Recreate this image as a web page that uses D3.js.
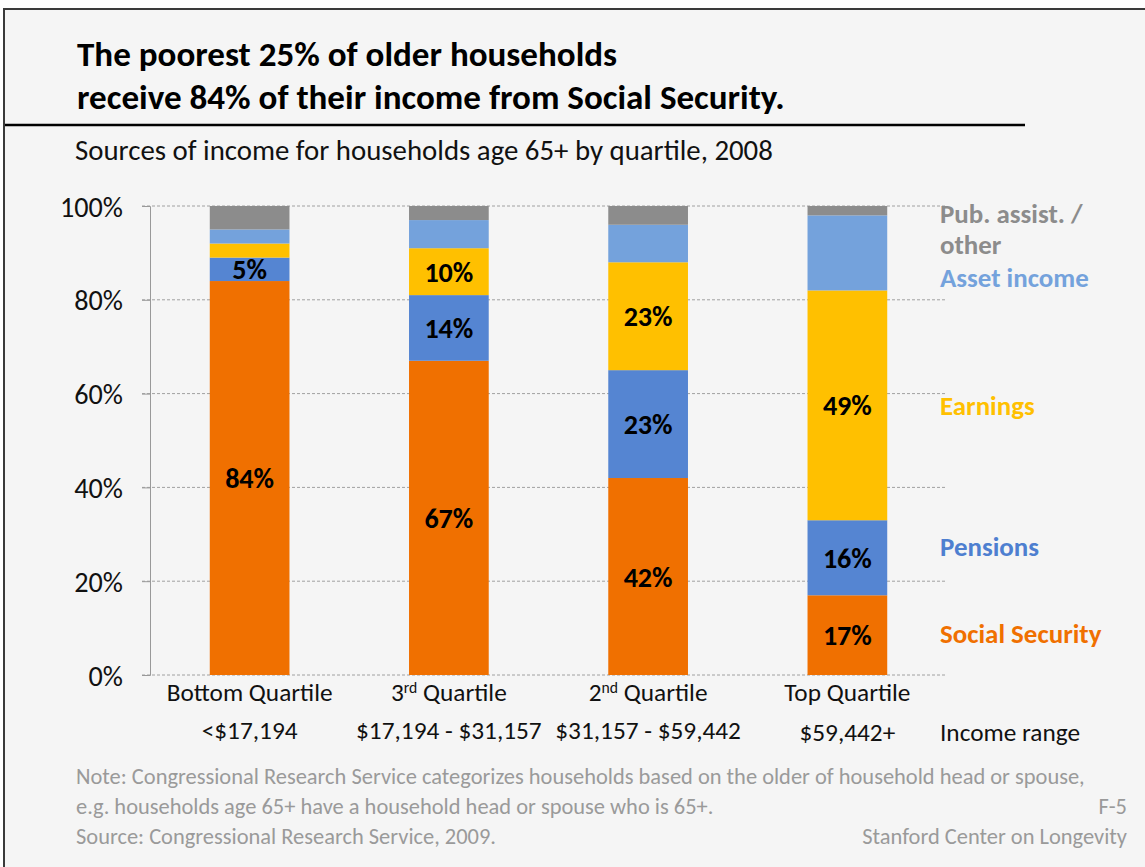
<!DOCTYPE html>
<html><head><meta charset="utf-8">
<script src="https://cdn.jsdelivr.net/npm/d3@7"></script>
<style>
html,body{margin:0;padding:0;background:#fff;}
svg{display:block;}
text{font-family:Carlito,Lato,"Open Sans",sans-serif;}
</style></head>
<body>
<script>
const categories = ["Bottom Quartile", "3rd Quartile", "2nd Quartile", "Top Quartile"];
const incomeRanges = ["<$17,194", "$17,194 - $31,157", "$31,157 - $59,442", "$59,442+"];
const seriesNames = ["Social Security", "Pensions", "Earnings", "Asset income", "Pub. assist. / other"];
const socialSecurity = [84, 67, 42, 17];
const pensions = [5, 14, 23, 16];
const earnings = [3, 10, 23, 49];
const assetIncome = [3, 6, 8, 16];
const pubAssistOther = [5, 3, 4, 2];
const labelled = [[true,true,true,true],[true,true,true,true],[false,true,true,true],[false,false,false,false],[false,false,false,false]];
const yTicks = [0, 20, 40, 60, 80, 100];
const colors = ["#F07000", "#5585D2", "#FFC000", "#74A2DC", "#8C8C8C"];
const legendColors = ["#F07000", "#4E7FD0", "#FFC000", "#74A2DC", "#8C8C8C"];

const W = 1145, H = 867;
const svg = d3.select("body").append("svg").attr("width", W).attr("height", H);
svg.append("rect").attr("x", 4).attr("y", 9).attr("width", W + 10).attr("height", H + 10)
  .attr("fill", "#f5f5f5").attr("stroke", "#3a3a3a").attr("stroke-width", 2);

// fit a text element's font-size so that its width equals target; returns size
function fit(sel, target) {
  const cur = sel.node().getComputedTextLength();
  const fs = parseFloat(sel.attr("font-size"));
  const nfs = fs * target / cur;
  sel.attr("font-size", nfs);
  return nfs;
}

// Title
const t1 = svg.append("text").attr("x", 77).attr("y", 66).attr("font-size", 28).attr("font-weight", "bold").attr("fill", "#000")
  .text("The poorest 25% of older households");
const t2 = svg.append("text").attr("x", 77).attr("y", 109).attr("font-size", 28).attr("font-weight", "bold").attr("fill", "#000")
  .text("receive 84% of their income from Social Security.");
const tfs = fit(t2, 708);
t1.attr("font-size", tfs);
svg.append("line").attr("x1", 5).attr("x2", 1025).attr("y1", 125).attr("y2", 125).attr("stroke", "#000").attr("stroke-width", 2.5);
const st = svg.append("text").attr("x", 75).attr("y", 160).attr("font-size", 22).attr("fill", "#111")
  .text("Sources of income for households age 65+ by quartile, 2008");
fit(st, 698);

// Scales
const x = d3.scaleBand().domain(categories).range([150, 947]).paddingInner(0.6).paddingOuter(0.3);
const y = d3.scaleLinear().domain([0, 100]).range([675, 206]);

// gridlines
svg.append("g").selectAll("line").data(yTicks).join("line")
  .attr("x1", 142).attr("x2", 945).attr("y1", d => y(d)).attr("y2", d => y(d))
  .attr("stroke", "#a0a0a0").attr("stroke-width", 1).attr("stroke-dasharray", "3,2");

// y axis
const yAxis = d3.axisLeft(y).tickValues(yTicks).tickFormat(d => d + "%").tickSize(8).tickPadding(19);
const ga = svg.append("g").attr("transform", "translate(150,0)").call(yAxis);
ga.select(".domain").attr("stroke", "#999");
ga.selectAll(".tick line").attr("stroke", "#999");
ga.selectAll(".tick text").attr("font-size", 22).attr("fill", "#111").attr("font-family", null).attr("dy", "0.36em");
const t100 = ga.selectAll(".tick text").filter(d => d === 100);
const yfs = fit(t100, 63);
ga.selectAll(".tick text").attr("font-size", yfs);

// stacked
const rows = categories.map((c, i) => ({cat: c, s0: socialSecurity[i], s1: pensions[i], s2: earnings[i], s3: assetIncome[i], s4: pubAssistOther[i]}));
const stack = d3.stack().keys(["s0","s1","s2","s3","s4"]);
const series = stack(rows);

const gBars = svg.append("g");
series.forEach((s, si) => {
  gBars.append("g").selectAll("rect").data(s).join("rect")
    .attr("x", d => x(d.data.cat)).attr("width", x.bandwidth())
    .attr("y", d => y(d[1])).attr("height", d => y(d[0]) - y(d[1]))
    .attr("fill", colors[si]);
});
// labels
const probe = svg.append("text").attr("font-size", 22).attr("font-weight", "bold").text("84%");
const lfs = fit(probe, 49);
probe.remove();
series.forEach((s, si) => {
  svg.append("g").selectAll("text").data(s.filter((d, i) => labelled[si][i])).join("text")
    .attr("x", d => x(d.data.cat) + x.bandwidth() / 2)
    .attr("y", d => y((d[0] + d[1]) / 2))
    .attr("dy", "0.36em").attr("text-anchor", "middle")
    .attr("font-size", lfs).attr("font-weight", "bold").attr("fill", "#000")
    .text(d => (d[1] - d[0]) + "%");
});

// x labels
const probe2 = svg.append("text").attr("font-size", 21).text("Bottom Quartile");
const xfs = fit(probe2, 166);
probe2.remove();
const gx = svg.append("g");
categories.forEach((c, i) => {
  const cx = x(c) + x.bandwidth() / 2;
  const t = gx.append("text").attr("x", cx).attr("y", 701).attr("text-anchor", "middle").attr("font-size", xfs).attr("fill", "#111");
  const m = c.match(/^(\d)(rd|nd)\s(.*)$/);
  if (m) {
    t.append("tspan").text(m[1]);
    t.append("tspan").attr("font-size", xfs * 0.62).attr("dy", -8).text(m[2]);
    t.append("tspan").attr("dy", 8).text(" " + m[3]);
  } else t.text(c);
  gx.append("text").attr("x", cx).attr("y", i === 3 ? 741 : 739).attr("text-anchor", "middle").attr("font-size", xfs).attr("fill", "#111").text(incomeRanges[i]);
});
gx.append("text").attr("x", 940).attr("y", 741).attr("font-size", xfs).attr("fill", "#111").text("Income range");

// legend (right side)
const probe3 = svg.append("text").attr("font-size", 23).attr("font-weight", "bold").text(seriesNames[0]);
const gfs = fit(probe3, 170) * 0.95;
probe3.remove();
const legendY = [633, 546, 405, 277];
[0,1,2,3].forEach(i => {
  svg.append("text").attr("x", 940).attr("y", legendY[i]).attr("dy", "0.36em").attr("font-size", gfs).attr("font-weight", "bold")
    .attr("fill", legendColors[i]).text(seriesNames[i]);
});
svg.append("text").attr("x", 940).attr("y", 213).attr("dy", "0.36em").attr("font-size", gfs).attr("font-weight", "bold")
  .attr("fill", legendColors[4]).text("Pub. assist. /");
svg.append("text").attr("x", 940).attr("y", 244).attr("dy", "0.36em").attr("font-size", gfs).attr("font-weight", "bold")
  .attr("fill", legendColors[4]).text("other");

// footer
const foot = svg.append("g").attr("fill", "#9a9a9a");
const f1 = foot.append("text").attr("x", 76).attr("y", 784).attr("font-size", 17).text("Note: Congressional Research Service categorizes households based on the older of household head or spouse,");
const ffs = fit(f1, 1009);
foot.attr("font-size", ffs);
foot.append("text").attr("x", 76).attr("y", 814).text("e.g. households age 65+ have a household head or spouse who is 65+.");
foot.append("text").attr("x", 76).attr("y", 844).text("Source: Congressional Research Service, 2009.");
foot.append("text").attr("x", 1127).attr("y", 814).attr("text-anchor", "end").text("F-5");
foot.append("text").attr("x", 1127).attr("y", 844).attr("text-anchor", "end").text("Stanford Center on Longevity");
</script>
</body></html>
